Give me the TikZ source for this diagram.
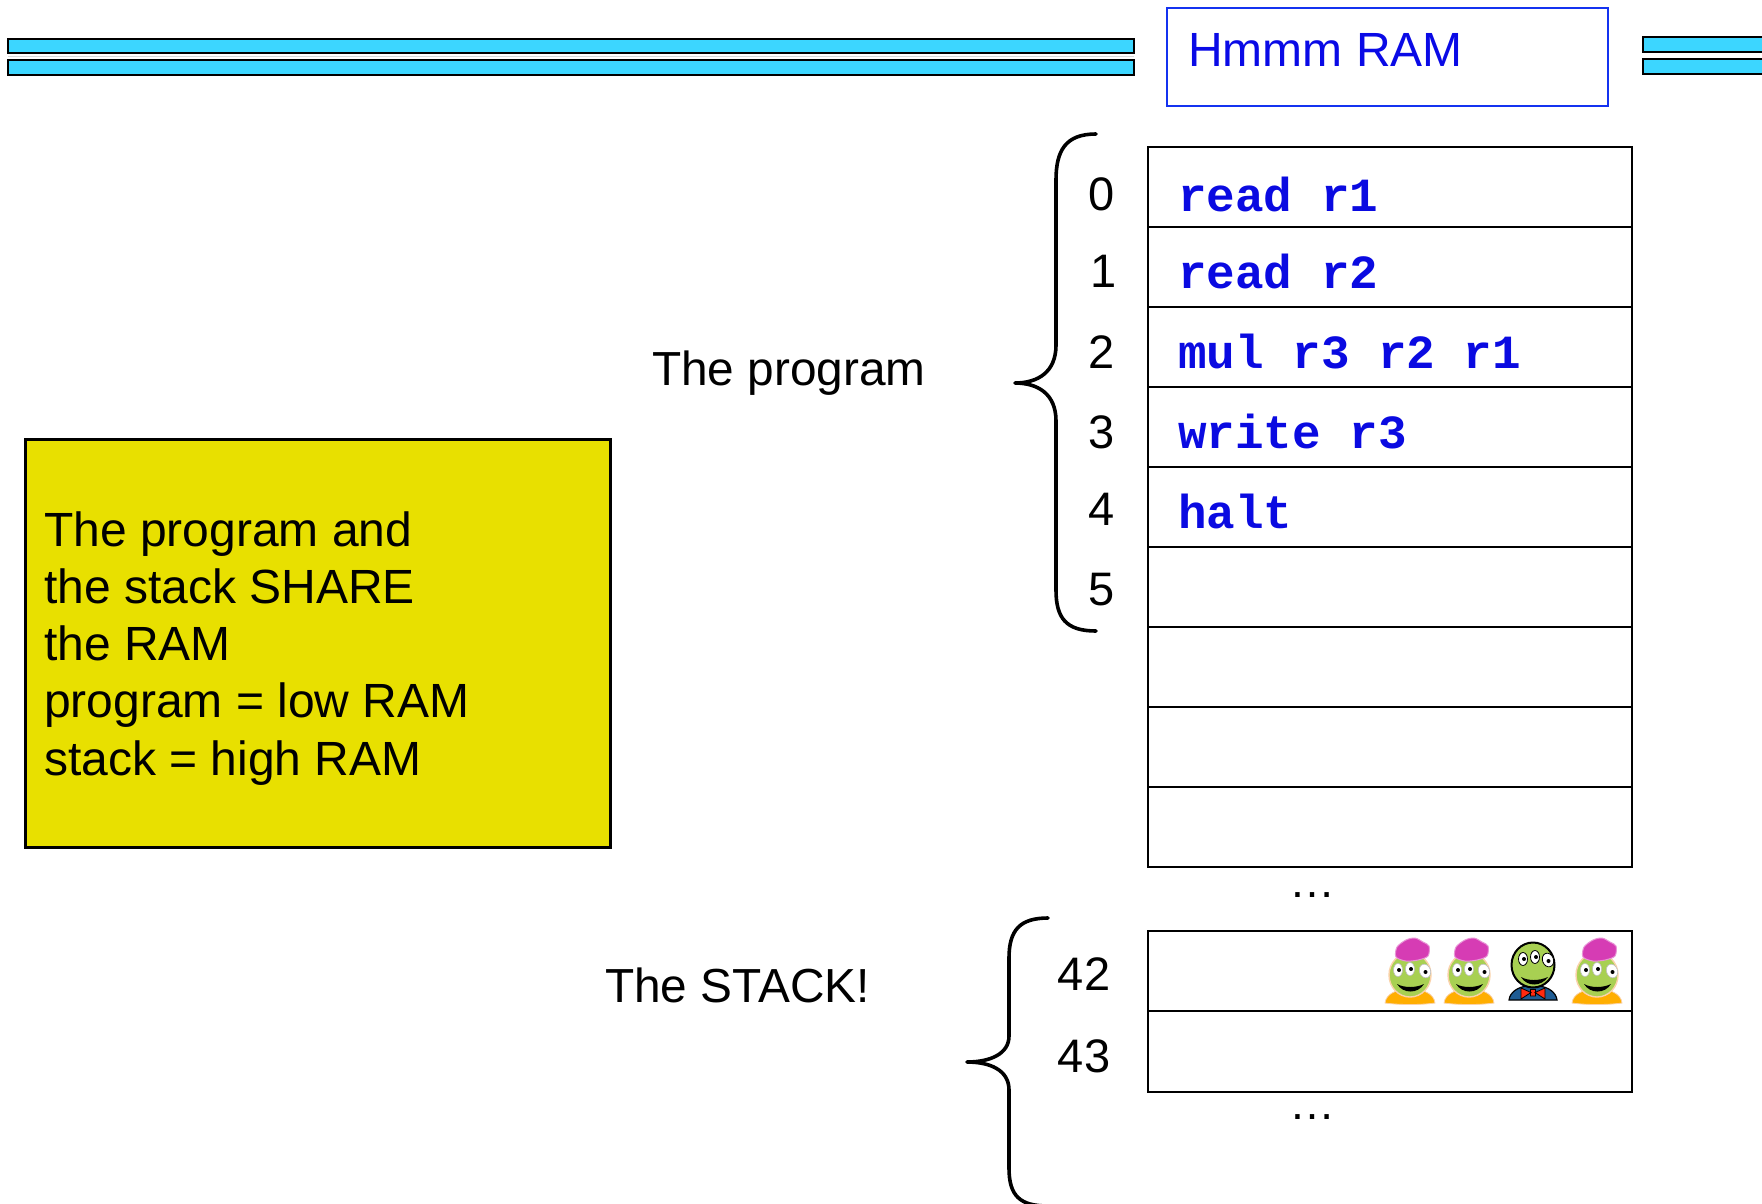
\documentclass[tikz,border=0pt]{standalone}
\usepackage{fontspec}
\setmainfont{Liberation Sans}
\newfontfamily\codefont{Liberation Mono}

\definecolor{barcyan}{RGB}{60,214,255}
\definecolor{ramframe}{RGB}{20,50,240}
\definecolor{ramtext}{RGB}{10,10,230}
\definecolor{codeblue}{RGB}{10,10,225}
\definecolor{noteyellow}{RGB}{232,224,0}
\definecolor{aliengreen}{RGB}{168,208,82}
\definecolor{bodyorange}{RGB}{255,174,0}
\definecolor{peach}{RGB}{250,210,170}
\definecolor{hatpink}{RGB}{214,60,180}
\definecolor{suitblue}{RGB}{30,92,148}
\definecolor{tiered}{RGB}{255,42,16}

\tikzset{
  bar/.style={draw=black, line width=2.2pt, fill=barcyan},
  cell/.style={draw=black, line width=2.2pt, minimum width=484pt, minimum height=80pt,
               inner sep=0pt, outer sep=0pt, anchor=north west},
  code/.style={anchor=base west, inner sep=0pt, text=codeblue,
               font={\codefont\bfseries\fontsize{47.6}{56}\selectfont}},
  idx/.style={anchor=base, inner sep=0pt, font={\fontsize{47}{55}\selectfont}},
  label/.style={anchor=base west, inner sep=0pt, font={\fontsize{47.8}{57}\selectfont}},
  dotsrow/.style={anchor=base, inner sep=0pt, font={\fontsize{46}{55}\selectfont}},
  brace/.style={draw=black, line width=3.6pt, line cap=round, line join=round},
  % alien with a pink hat and an orange body
  pinkalien/.pic={
    \filldraw[fill=bodyorange, draw=peach, line width=0.8pt]
      (-25,0) .. controls (-24,-9) and (-14,-14) .. (0,-14)
      .. controls (14,-14) and (24,-9) .. (25,0)
      .. controls (10,2) and (-10,2) .. cycle;
    \filldraw[fill=aliengreen, draw=peach, line width=1.4pt]
      (0,-28) ellipse [x radius=21, y radius=22];
    \filldraw[fill=hatpink, draw=hatpink!55, line width=1pt]
      plot[smooth cycle] coordinates {(-14,-46) (-13,-56) (-4,-63) (5,-65) (13,-61)
                                      (19,-57) (18,-47) (8,-43) (-4,-42)};
    \filldraw[fill=white, draw=gray!50, line width=0.6pt]
      (-12,-33) ellipse [x radius=4.5, y radius=6.5]
      (0,-34) ellipse [x radius=4.5, y radius=6.5];
    \filldraw[fill=white, draw=gray!50, line width=0.6pt, rotate around={20:(15,-32)}]
      (15,-32) ellipse [x radius=5.5, y radius=7];
    \fill[black] (-11,-33) circle (2) (1,-34) circle (2) (15.5,-31) circle (2);
    \fill[black] (-13,-19) .. controls (-7,-9) and (8,-9) .. (14,-19)
      .. controls (6,-15) and (-6,-15) .. cycle;
  },
  % alien in a blue suit with a red bow tie
  suitalien/.pic={
    \filldraw[fill=suitblue, draw=black, line width=1.2pt]
      (-24,0) .. controls (-23,-8) and (-15,-13) .. (-6,-14) -- (6,-14)
      .. controls (15,-13) and (23,-8) .. (24,0) -- cycle;
    \filldraw[fill=aliengreen, draw=black, line width=2pt]
      (0,-35) ellipse [x radius=21.5, y radius=22.5];
    \filldraw[fill=white, draw=black, line width=0.8pt]
      (-10,-41) ellipse [x radius=4.5, y radius=6.5]
      (2,-43) ellipse [x radius=4.5, y radius=6.5];
    \filldraw[fill=white, draw=black, line width=0.8pt, rotate around={20:(15,-40)}]
      (15,-40) ellipse [x radius=5.5, y radius=7];
    \fill[black] (-9,-41) circle (2) (3,-43) circle (2) (15.5,-39) circle (2);
    \fill[black] (-12,-23) .. controls (-6,-13) and (8,-13) .. (15,-23)
      .. controls (6,-19) and (-5,-19) .. cycle;
    \filldraw[fill=tiered, draw=black, line width=0.8pt]
      (-12,-12) -- (-2,-7.5) -- (-12,-1) -- cycle
      (12,-12) -- (2,-7.5) -- (12,-1) -- cycle
      (-2.5,-10.5) rectangle (2.5,-4);
  },
}

\begin{document}
\begin{tikzpicture}[x=1pt, y=-1pt]
\useasboundingbox (0,0) rectangle (1762,1203);
\clip (0,0) rectangle (1762,1203);

% title bars
\draw[bar] (8,39) rectangle (1134,53);
\draw[gray!30, line width=1.5pt] (8,56.5) -- (1134,56.5);
\draw[bar] (8,60) rectangle (1134,75);
\draw[bar] (1643,37) rectangle (1772,52);
\draw[bar] (1643,59) rectangle (1772,74);

% title
\node[draw=ramframe, line width=2.2pt, minimum width=441pt, minimum height=98pt,
      inner sep=0pt, anchor=north west] (title) at (1166,7) {};
\node[anchor=base west, inner sep=0pt, text=ramtext,
      font={\fontsize{48}{58}\selectfont}] (titletext) at (1188,66) {Hmmm RAM};

% memory cells
\foreach \i/\y in {0/147,1/227,2/307,3/387,4/467,5/547,6/627,7/707,8/787}
  \node[cell] (m\i) at (1148,\y) {};
\node[cell] (s42) at (1148,931) {};
\node[cell, minimum height=81pt] (s43) at (1148,1011) {};

% program in memory
\node[code] (c0) at (1178,211) {read r1};
\node[code] (c1) at (1178,288) {read r2};
\node[code] (c2) at (1178,368) {mul r3 r2 r1};
\node[code] (c3) at (1178,448) {write r3};
\node[code] (c4) at (1178,528) {halt};

% addresses
\node[idx] (a0) at (1102,210) {0};
\node[idx] (a1) at (1104,287) {1};
\node[idx] (a2) at (1102,368) {2};
\node[idx] (a3) at (1102,448) {3};
\node[idx] (a4) at (1102,525) {4};
\node[idx] (a5) at (1102,605) {5};
\node[idx] (a42) at (1084,990) {42};
\node[idx] (a43) at (1084,1072) {43};

% continuation dots
\node[dotsrow] (gap1) at (1312,897) {…};
\node[dotsrow] (gap2) at (1312,1119) {…};

% braces
\draw[brace] (1096,134) .. controls (1066,134) and (1056,150) .. (1056,180)
  -- (1056,345) .. controls (1056,372) and (1038,383) .. (1015,383)
  .. controls (1038,383) and (1056,394) .. (1056,421)
  -- (1056,590) .. controls (1056,618) and (1066,631) .. (1096,631);
\draw[brace] (1048,918) .. controls (1020,918) and (1009,930) .. (1009,958)
  -- (1009,1036) .. controls (1009,1054) and (990,1062) .. (967,1062)
  .. controls (990,1062) and (1009,1070) .. (1009,1090)
  -- (1009,1168) .. controls (1009,1196) and (1020,1206) .. (1048,1206);

% labels
\node[label] (prog) at (652,385) {The program};
\node[label] (stack) at (605,1002) {The STACK!};

% note
\node[draw=black, fill=noteyellow, line width=3pt, minimum width=585pt,
      minimum height=408pt, inner sep=0pt, anchor=north west] (note) at (24,438) {};
\node[anchor=base west, inner sep=0pt, align=left,
      font={\fontsize{48}{57.2}\selectfont}] (notetext) at (44,775)
  {The program and\\the stack SHARE\\the RAM\\program = low RAM\\stack = high RAM};

% stack contents
\pic (f1) at (1410,1003) {pinkalien};
\pic (f2) at (1469,1003) {pinkalien};
\pic (f3) at (1533,1000) {suitalien};
\pic (f4) at (1597,1003) {pinkalien};
\end{tikzpicture}
\end{document}
